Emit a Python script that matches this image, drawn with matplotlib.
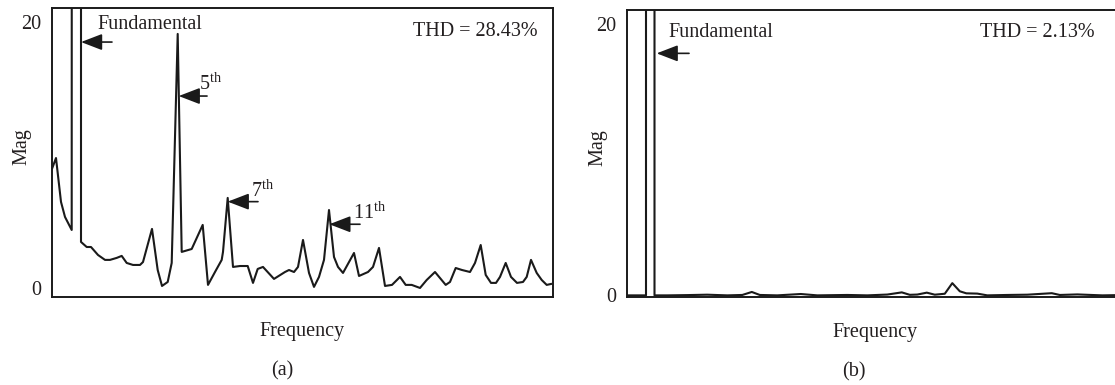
import matplotlib
matplotlib.use("Agg")
import matplotlib.pyplot as plt

plt.rcParams['font.family'] = ['Liberation Serif', 'DejaVu Serif']
plt.rcParams['mathtext.fontset'] = 'custom'
plt.rcParams['mathtext.rm'] = 'Liberation Serif'
plt.rcParams['font.size'] = 14.5

# 频谱数据 (a)：谐波补偿前
freq_a = [0.06, 0.8, 1.8, 2.6, 3.94, 4.0, 5.8, 5.8, 6.94, 7.8,
          9.2, 10.6, 11.6, 12.94, 13.94, 14.94, 16.2, 17.6, 18.2, 20.0,
          21.14, 22.0, 23.14, 23.94, 25.14, 25.94, 27.94, 30.14, 31.2, 32.6,
          33.94, 34.2, 35.14, 36.2, 37.6, 39.14, 40.2, 41.14, 42.2, 44.4,
          46.6, 47.4, 48.4, 49.2, 50.2, 51.4, 52.4, 53.4, 54.4, 55.4,
          56.4, 57.2, 58.2, 60.4, 61.4, 63.2, 64.2, 65.4, 66.6, 68.0,
          69.6, 70.74, 71.94, 73.6, 74.94, 76.6, 78.74, 79.6, 80.74, 82.0,
          83.6, 84.6, 85.74, 86.74, 87.8, 88.8, 89.6, 90.74, 91.8, 93.0,
          94.2, 94.94, 95.8, 96.94, 97.94, 98.94, 99.8]
mag_a = [9.02, 9.77, 6.47, 5.34, 4.36, 100, 100, 3.46, 3.08, 3.08,
         2.48, 2.11, 2.11, 2.26, 2.41, 1.88, 1.73, 1.73, 1.95, 4.44,
         1.35, 0.15, 0.45, 1.88, 19.1, 2.71, 2.93, 4.74, 0.23, 1.2,
         2.11, 2.71, 6.77, 1.58, 1.65, 1.65, 0.38, 1.43, 1.58, 0.68,
         1.2, 1.35, 1.2, 1.58, 3.61, 1.13, 0.08, 0.83, 2.11, 5.86,
         2.33, 1.58, 1.13, 2.63, 0.9, 1.2, 1.58, 3.01, 0.15, 0.23,
         0.83, 0.23, 0.23, 0.0, 0.6, 1.2, 0.23, 0.45, 1.5, 1.35,
         1.2, 1.88, 3.23, 0.98, 0.38, 0.38, 0.83, 1.88, 0.83, 0.38,
         0.45, 0.83, 2.11, 1.13, 0.6, 0.23, 0.3]

# 频谱数据 (b)：谐波补偿后
freq_b = [0, 3.74, 3.74, 5.44, 5.44, 8, 12, 16, 20, 23,
          24.9, 26.5, 30, 34.7, 38, 44, 48, 52, 54.9, 56.5,
          58, 59.9, 61.5, 63.5, 65.0, 66.5, 67.8, 70, 72, 76,
          80, 84.9, 86.5, 90, 95, 100]
mag_b = [0.0, 0.0, 100, 100, 0.0, 0.0, 0.02, 0.05, 0.0, 0.03,
         0.25, 0.03, 0.0, 0.1, 0.0, 0.03, 0.0, 0.06, 0.22, 0.04,
         0.06, 0.2, 0.05, 0.12, 0.9, 0.3, 0.15, 0.13, 0.0, 0.03,
         0.05, 0.16, 0.03, 0.07, 0.0, 0.03]

thd_a = "THD = 28.43%"
thd_b = "THD = 2.13%"
harmonic_labels = ["5", "7", "11"]

line_c = '#1a1a1a'
text_c = '#231f20'

fig = plt.figure(figsize=(11.15, 3.85), dpi=100)
ax_a = fig.add_axes([52 / 1115, 88 / 385, 501 / 1115, 289 / 385])
ax_b = fig.add_axes([627.3 / 1115, 88 / 385, 501 / 1115, 287 / 385])

arrow_kw = dict(arrowstyle='-|>,head_length=0.65,head_width=0.25', mutation_scale=20,
                lw=1.2, color=line_c, shrinkA=0, shrinkB=0)

for ax, f, m, ylim in [(ax_a, freq_a, mag_a, (-0.68, 21.05)), (ax_b, freq_b, mag_b, (-0.12, 21.0))]:
    ax.plot(f, m, color=line_c, lw=1.5)
    ax.set_xlim(0, 100.2)
    ax.set_ylim(*ylim)
    ax.set_xticks([])
    ax.set_yticks([0, 20])
    ax.tick_params(axis='y', length=0, pad=8, labelcolor=text_c, labelsize=14.5)
    for s in ax.spines.values():
        s.set_linewidth(1.4)
        s.set_color(line_c)
    ax.set_ylabel("Mag", color=text_c, va='center')
    ax.set_xlabel("Frequency", color=text_c, va='center')

ax_a.yaxis.set_label_coords(-0.06, 0.522)
ax_a.xaxis.set_label_coords(0.5, -0.118)
ax_b.yaxis.set_label_coords(-0.0585, 0.521)
ax_b.xaxis.set_label_coords(0.494, -0.125)

# 文字标注
ax_a.text(0.0912, 0.927, "Fundamental", transform=ax_a.transAxes, va='baseline', color=text_c)
ax_a.text(0.9687, 0.903, thd_a, transform=ax_a.transAxes, ha='right', va='baseline', color=text_c)
ax_b.text(0.0818, 0.906, "Fundamental", transform=ax_b.transAxes, va='baseline', color=text_c)
ax_b.text(0.9335, 0.907, thd_b, transform=ax_b.transAxes, ha='right', va='baseline', color=text_c)

label_pos = [(0.2934, 0.716), (0.397, 0.347), (0.600, 0.270)]
for lab, (tx, ty) in zip(harmonic_labels, label_pos):
    ax_a.text(tx, ty, lab + r"$^{\mathrm{th}}$", transform=ax_a.transAxes, va='baseline', color=text_c)

# 箭头
ax_a.annotate("", xy=(5.8, 18.49), xytext=(22.3, 0), textcoords='offset points', arrowprops=arrow_kw)
ax_a.annotate("", xy=(25.34, 14.43), xytext=(20.4, 0), textcoords='offset points', arrowprops=arrow_kw)
ax_a.annotate("", xy=(35.14, 6.49), xytext=(21.8, 0), textcoords='offset points', arrowprops=arrow_kw)
ax_a.annotate("", xy=(55.46, 4.79), xytext=(22.1, 0), textcoords='offset points', arrowprops=arrow_kw)
ax_b.annotate("", xy=(5.87, 17.81), xytext=(23.3, 0), textcoords='offset points', arrowprops=arrow_kw)

fig.text(282 / 1115, 1 - 371 / 385, "(a)", ha='center', va='center', color=text_c)
fig.text(854 / 1115, 1 - 372 / 385, "(b)", ha='center', va='center', color=text_c)

fig.savefig("out.png", dpi=100)
